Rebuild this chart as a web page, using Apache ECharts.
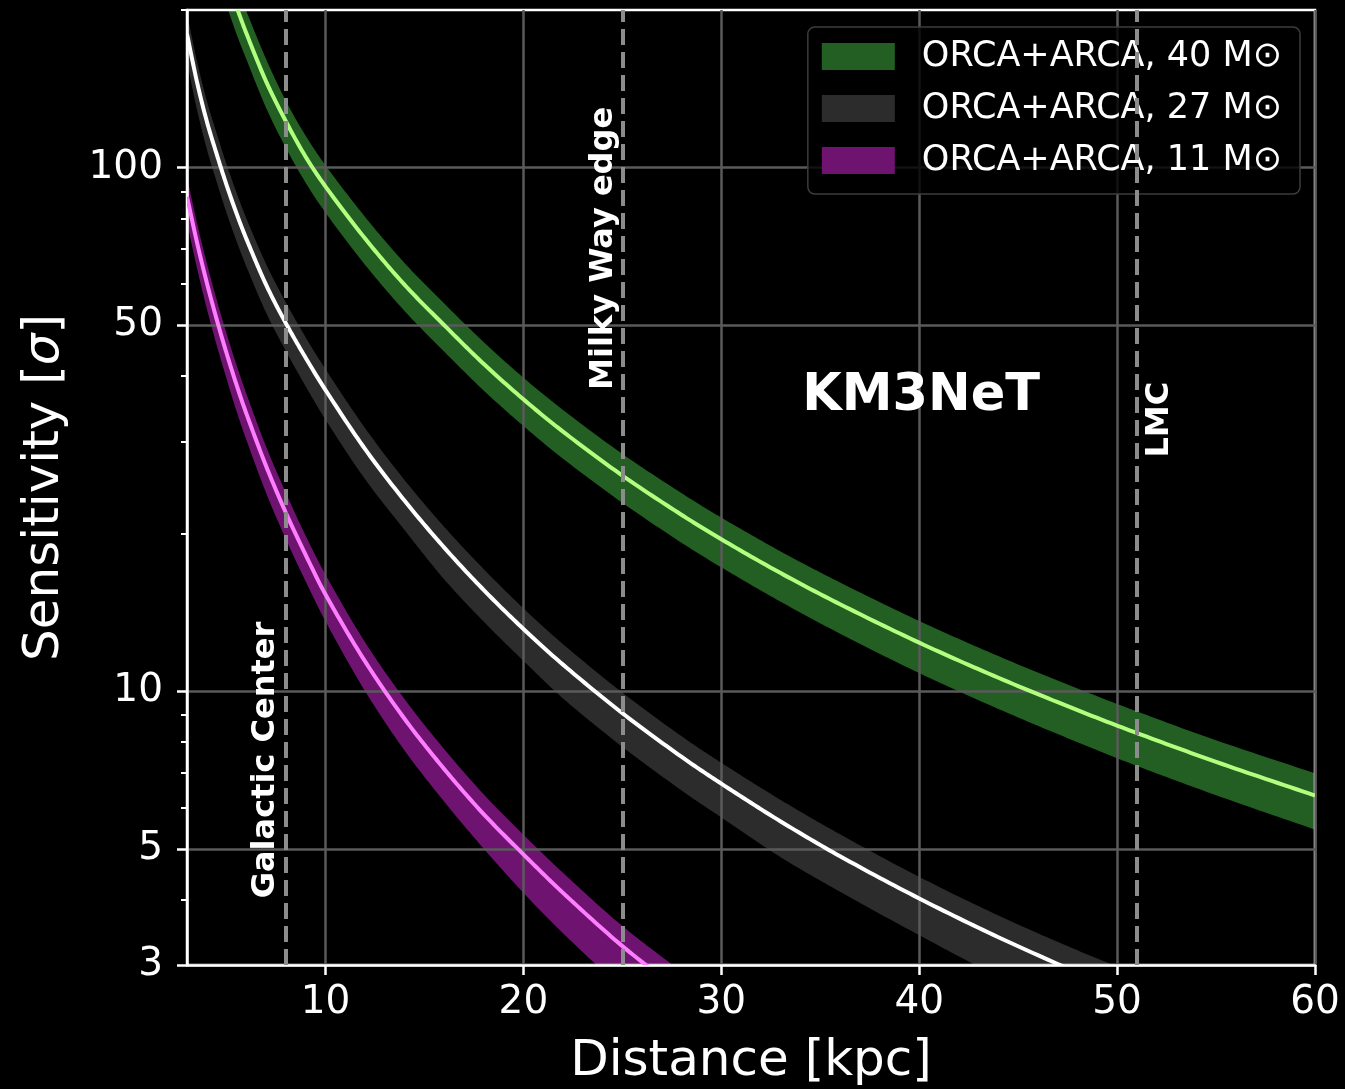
<!DOCTYPE html>
<html><head><meta charset="utf-8">
<script src="https://cdn.jsdelivr.net/npm/echarts@6/dist/echarts.min.js"></script>
<style>html,body{margin:0;padding:0;background:#000}#c{width:1345px;height:1089px}</style>
</head><body><div id="c"></div>
<script>
// ---- data ----
const seriesNames = ['ORCA+ARCA, 40 M\u2299', 'ORCA+ARCA, 27 M\u2299', 'ORCA+ARCA, 11 M\u2299'];

const dist40 = [5, 5.5, 6, 7, 8, 9, 10, 12, 14, 16, 18, 20, 22, 25, 28, 30, 33, 36, 40, 44, 48, 51, 55, 60];
const mid40  = [230, 203, 180.5, 146, 122.5, 104.8, 92, 73.2, 59.7, 50, 42.15, 36.1, 31.32, 25.82, 21.71, 19.51, 16.81, 14.66, 12.38, 10.61, 9.2, 8.32, 7.33, 6.32];
const hi40   = [253, 223, 199, 161, 134, 115, 101, 80.5, 65.7, 55, 46.4, 39.7, 34.45, 28.4, 23.88, 21.46, 18.49, 16.13, 13.62, 11.67, 10.12, 9.15, 8.06, 6.97];
const lo40   = [204, 180, 161, 130, 109, 93.5, 82, 65.2, 53.2, 44.5, 37.5, 32.1, 27.8, 22.9, 19.2, 17.24, 14.82, 12.88, 10.83, 9.25, 7.99, 7.2, 6.33, 5.44];

const dist27 = [3, 3.5, 4, 4.5, 5, 5.5, 6, 7, 8, 9, 10, 12, 14, 16, 18, 20, 22, 25, 28, 30, 33, 36, 40, 44, 48, 51];
const mid27  = [180, 146, 122.6, 106.1, 92.6, 81.8, 73.1, 59.7, 50.4, 43.3, 37.6, 29.0, 23.1, 18.8, 15.6, 13.15, 11.24, 9.08, 7.49, 6.66, 5.64, 4.84, 4.02, 3.39, 2.9, 2.59];
const hi27   = [197, 160, 134.2, 116.2, 101.4, 89.6, 80.0, 65.4, 55.2, 47.4, 41.2, 31.8, 25.3, 20.6, 17.1, 14.4, 12.3, 9.94, 8.2, 7.3, 6.2, 5.33, 4.42, 3.73, 3.2, 2.88];
const lo27   = [159.3, 129.2, 108.5, 93.9, 81.9, 72.4, 64.7, 52.8, 44.6, 38.2, 33.0, 25.4, 20.3, 16.35, 13.57, 11.43, 9.69, 7.83, 6.46, 5.74, 4.82, 4.14, 3.42, 2.85, 2.42, 2.16];

const dist11 = [3, 3.5, 4, 4.5, 5, 5.5, 6, 7, 8, 9, 10, 12, 14, 16, 18, 20, 22, 25, 28];
const mid11  = [88, 72.1, 60.3, 51.3, 44.2, 38.5, 33.9, 26.9, 21.9, 18.2, 15.3, 11.4, 8.85, 7.1, 5.82, 4.88, 4.12, 3.26, 2.66];
const hi11   = [96, 78.6, 65.7, 55.9, 48.2, 42.0, 37.0, 29.3, 23.9, 19.8, 16.7, 12.4, 9.65, 7.75, 6.35, 5.32, 4.5, 3.56, 2.91];
const lo11   = [78.6, 64.4, 53.8, 45.8, 39.5, 34.3, 30.2, 23.9, 19.5, 16.2, 13.6, 10.0, 7.7, 6.15, 5.0, 4.12, 3.45, 2.71, 2.2];

const xTickValues = [10, 20, 30, 40, 50, 60];
const yTickValues = [3, 5, 10, 50, 100];
const yMinorValues = [4, 6, 7, 8, 9, 20, 30, 40, 60, 70, 80, 90, 200];
const refDistances = [8, 25, 51];
const refLabels = ['Galactic Center', 'Milky Way edge', 'LMC'];
const experimentLabel = 'KM3NeT';

// ---- styling ----
const FONT = 'DejaVu Sans';
const bandColors = ['#235e22', '#2c2c2c', '#6e136f'];
const lineColors = ['#b2ff80', '#ffffff', '#ff7eff'];

// smooth curve through screen points (Hermite, chord-scaled tangents) — rendering only
function smoothPts(p) {
  const n = p.length, out = [];
  const tan = [];
  for (let i = 0; i < n; i++) {
    const a = p[Math.max(0, i - 1)], b = p[Math.min(n - 1, i + 1)];
    const dx = b[0] - a[0], dy = b[1] - a[1];
    const l = Math.hypot(dx, dy) || 1;
    tan.push([dx / l, dy / l]);
  }
  for (let i = 0; i < n - 1; i++) {
    const p0 = p[i], p1 = p[i + 1];
    const len = Math.hypot(p1[0] - p0[0], p1[1] - p0[1]);
    const c1 = [p0[0] + tan[i][0] * len / 3, p0[1] + tan[i][1] * len / 3];
    const c2 = [p1[0] - tan[i + 1][0] * len / 3, p1[1] - tan[i + 1][1] * len / 3];
    const steps = 16;
    for (let s = 0; s < steps; s++) {
      const t = s / steps, u = 1 - t;
      out.push([
        u * u * u * p0[0] + 3 * u * u * t * c1[0] + 3 * u * t * t * c2[0] + t * t * t * p1[0],
        u * u * u * p0[1] + 3 * u * u * t * c1[1] + 3 * u * t * t * c2[1] + t * t * t * p1[1]
      ]);
    }
  }
  out.push(p[n - 1]);
  return out;
}

// band between lo and hi: one filled shape, positioned with the axes' own scales
function bandSeries(name, xs, lo, hi, color) {
  return {
    name: name, type: 'custom', z: -1, silent: true, clip: true,
    itemStyle: { color: color },
    data: [[xs[0], lo[0]]],
    renderItem: function (params, api) {
      const up = smoothPts(xs.map((x, i) => api.coord([x, hi[i]])));
      const dn = smoothPts(xs.map((x, i) => api.coord([x, lo[i]]))).reverse();
      return { type: 'polygon', shape: { points: up.concat(dn) }, style: { fill: color, stroke: null } };
    }
  };
}
// centre line drawn through the same scales
function midSeries(xs, ys, color) {
  return {
    name: 'mid', type: 'custom', z: 3, silent: true, clip: true,
    data: [[xs[0], ys[0]]],
    renderItem: function (params, api) {
      const pts = smoothPts(xs.map((x, i) => api.coord([x, ys[i]])));
      return { type: 'polyline', shape: { points: pts }, style: { stroke: color, lineWidth: 4, fill: null } };
    }
  };
}

const chart = echarts.init(document.getElementById('c'), null, { renderer: 'canvas' });

const series = [
  bandSeries(seriesNames[0], dist40, lo40, hi40, bandColors[0]),
  bandSeries(seriesNames[1], dist27, lo27, hi27, bandColors[1]),
  bandSeries(seriesNames[2], dist11, lo11, hi11, bandColors[2]),
  midSeries(dist40, mid40, lineColors[0]),
  midSeries(dist27, mid27, lineColors[1]),
  midSeries(dist11, mid11, lineColors[2]),
  {
    name: 'refs', type: 'line', data: [], z: 2, silent: true,
    markLine: {
      silent: true, symbol: ['none', 'none'], label: { show: false },
      lineStyle: { type: [16, 7], color: '#8c8c8c', width: 4 },
      data: refDistances.map(d => ({ xAxis: d }))
    }
  }
];

chart.setOption({
  animation: false,
  backgroundColor: '#000',
  grid: { left: 187, right: 30, top: 10, bottom: 124, outerBoundsMode: 'none', containLabel: false,
    show: true, borderColor: '#fff', borderWidth: 2.5, backgroundColor: 'transparent' },
  xAxis: {
    type: 'value', min: 3, max: 60,
    name: 'Distance [kpc]', nameLocation: 'middle', nameGap: 72,
    nameTextStyle: { color: '#fff', fontSize: 50, fontFamily: FONT },
    axisLine: { show: true, lineStyle: { color: '#fff', width: 2.5 } },
    axisTick: { show: true, customValues: xTickValues, length: 10, lineStyle: { color: '#fff', width: 2.5 } },
    axisLabel: { customValues: xTickValues, color: '#fff', fontSize: 39, fontFamily: FONT, margin: 18 },
    splitLine: { show: true, lineStyle: { color: '#5a5a5a', width: 2.5 } }
  },
  yAxis: [
    {
      type: 'log', logBase: 10, min: 3, max: 200,
      name: 'Sensitivity [{i|\u03c3}]', nameLocation: 'middle', nameGap: 117,
      nameTextStyle: { color: '#fff', fontSize: 50, fontFamily: FONT,
        rich: { i: { fontStyle: 'italic', fontSize: 50, fontFamily: FONT, color: '#fff' } } },
      axisLine: { show: true, lineStyle: { color: '#fff', width: 2.5 } },
      axisTick: { show: true, customValues: yTickValues, length: 10, lineStyle: { color: '#fff', width: 2.5 } },
      axisLabel: { customValues: yTickValues, color: '#fff', fontSize: 39, fontFamily: FONT, margin: 24,
        formatter: v => String(Math.round(v)) },
      splitLine: { show: true, lineStyle: { color: '#5a5a5a', width: 2.5 } }
    },
    {
      type: 'log', logBase: 10, min: 3, max: 200, position: 'left', offset: 0,
      axisLine: { show: false },
      axisTick: { show: true, customValues: yMinorValues, length: 6, lineStyle: { color: '#fff', width: 2 } },
      axisLabel: { show: false },
      splitLine: { show: false }
    }
  ],
  legend: {
    data: seriesNames.map((n, i) => ({ name: n, icon: 'rect', itemStyle: { color: bandColors[i], borderWidth: 0 } })),
    orient: 'vertical', right: 45, top: 27,
    itemWidth: 73, itemHeight: 27, itemGap: 17,
    backgroundColor: 'rgba(0,0,0,0.8)', borderColor: '#3c3c3c', borderWidth: 1.5, borderRadius: 7,
    padding: [12, 18, 16, 14],
    textStyle: { color: '#fff', fontSize: 35, fontFamily: FONT, lineHeight: 35, padding: [0, 0, 0, 22] },
    selectedMode: false
  },
  series: series
});

// annotations positioned through the chart's own axes
function px(x, y) { return chart.convertToPixel({ gridIndex: 0 }, [x, y]); }
const gc = px(6.97, 7.39), mw = px(24.04, 70.1), lmc = px(52.17, 33.0), km = px(40.1, 36.5);
const vtext = (p, txt) => ({
  type: 'text', x: p[0], y: p[1], rotation: Math.PI / 2, z: 100, silent: true,
  style: { text: txt, fill: '#fff', font: 'bold 32px "DejaVu Sans"', textAlign: 'center', textVerticalAlign: 'middle' }
});
chart.setOption({
  graphic: [
    vtext(gc, refLabels[0]),
    vtext(mw, refLabels[1]),
    vtext(lmc, refLabels[2]),
    { type: 'text', x: km[0], y: km[1], z: 100, silent: true,
      style: { text: experimentLabel, fill: '#fff', font: 'bold 51px "DejaVu Sans"', textAlign: 'center', textVerticalAlign: 'middle' } }
  ]
});
</script></body></html>
